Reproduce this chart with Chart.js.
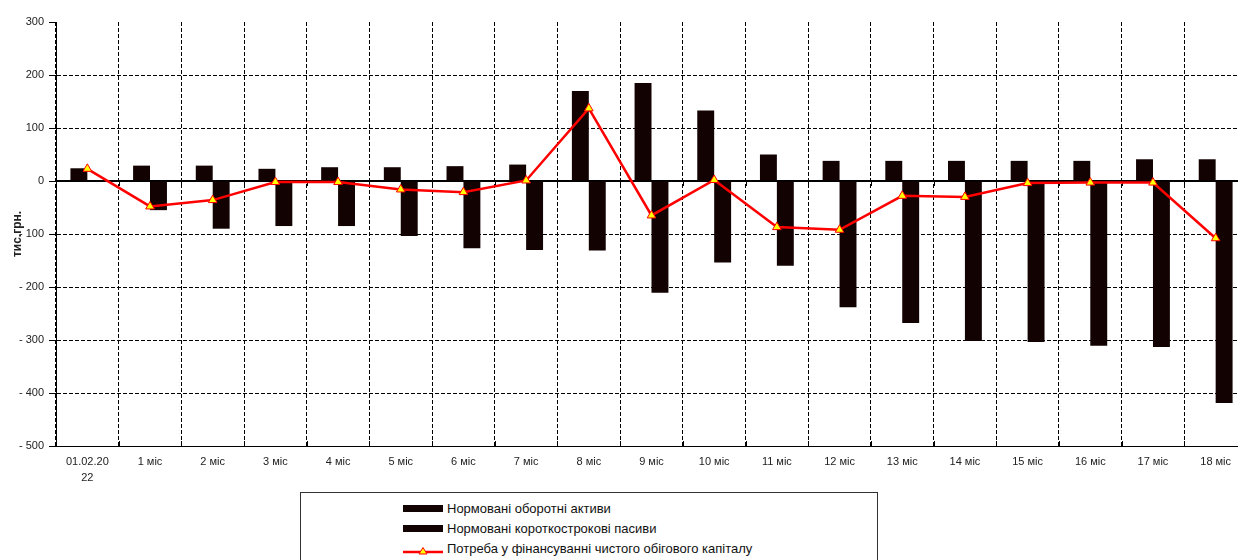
<!DOCTYPE html>
<html lang="uk">
<head>
<meta charset="utf-8">
<title>Потреба у фінансуванні чистого обігового капіталу</title>
<script src="https://cdn.jsdelivr.net/npm/chart.js"></script>
<style>
    html, body { margin: 0; padding: 0; background: #fff; overflow: hidden; }
    #wrap { position: relative; width: 1238px; height: 560px; overflow: hidden; }
    #chart { position: absolute; left: 0; top: 0; }
    #legend {
        position: absolute; left: 300px; top: 492px; width: 578px; height: 80px;
        border: 1px solid #333; box-sizing: border-box;
        font-family: "Liberation Sans", Arial, sans-serif; font-size: 13px; color: #111;
        padding-top: 5px;
    }
    #legend .item { display: flex; align-items: center; height: 20.3px; padding-left: 102px; }
    #legend .swatch { width: 40px; height: 10px; margin-right: 4px; position: relative; }
    #legend .box { position: absolute; left: 0; top: 1.5px; width: 40px; height: 7px; }
</style>
</head>
<body>
<div id="wrap">
    <canvas id="chart" width="1253" height="490"></canvas>
    <div id="legend"></div>
</div>
<script>
// Categories: start date and months after it
const categories = [
    ['01.02.20', '22'], '1 міс', '2 міс', '3 міс', '4 міс', '5 міс', '6 міс', '7 міс', '8 міс',
    '9 міс', '10 міс', '11 міс', '12 міс', '13 міс', '14 міс', '15 міс', '16 міс', '17 міс', '18 міс'
];

// Values, тис. грн.
const currentAssets = [24, 29, 29, 23, 26, 26, 28, 31, 170, 185, 133, 50, 38, 38, 38, 38, 38, 41, 41];
const currentLiabilities = [null, -55, -90, -85, -85, -104, -127, -130, -131, -211, -154, -160, -238, -268, -302, -304, -311, -313, -419];
const workingCapitalNeed = [23, -48, -36, -2, -2, -16, -21, 1, 137, -65, 2, -87, -92, -28, -30, -4, -3, -3, -108];

const yTicks = { min: -500, max: 300, step: 100 };

const seriesNames = [
    'Нормовані оборотні активи',
    'Нормовані короткострокові пасиви',
    'Потреба у фінансуванні чистого обігового капіталу'
];

const BAR_COLOR = '#120202';
const LINE_COLOR = '#ff0000';
const POINT_FILL = '#ffff00';
const TEXT_COLOR = '#222';

// Solid zero line plus the small category tick marks on it and on the bottom axis
const axisLinePlugin = {
    id: 'axisLines',
    beforeDatasetsDraw(chart) {
        const { ctx, chartArea, scales: { x, y } } = chart;
        const zeroY = Math.round(y.getPixelForValue(0));
        ctx.save();
        ctx.strokeStyle = '#000';
        ctx.lineWidth = 2;
        ctx.beginPath();
        ctx.moveTo(chartArea.left, zeroY);
        ctx.lineTo(chartArea.right, zeroY);
        ctx.stroke();

        ctx.lineWidth = 1;
        const half = (x.getPixelForValue(1) - x.getPixelForValue(0)) / 2;
        ctx.beginPath();
        for (let i = 0; i < categories.length; i++) {
            const bx = Math.round(x.getPixelForValue(i) + half) + 0.5;
            ctx.moveTo(bx, zeroY);
            ctx.lineTo(bx, zeroY + 5);
            ctx.moveTo(bx, chartArea.bottom);
            ctx.lineTo(bx, chartArea.bottom - 5);
        }
        ctx.stroke();
        ctx.restore();
    }
};

function buildLegend(chart) {
    const legend = document.getElementById('legend');
    chart.data.datasets.forEach(ds => {
        const item = document.createElement('div');
        item.className = 'item';
        const swatch = document.createElement('div');
        swatch.className = 'swatch';
        if (ds.type === 'line') {
            swatch.innerHTML =
                '<svg width="40" height="10" viewBox="0 0 40 10">' +
                '<line x1="0" y1="6" x2="40" y2="6" stroke="' + LINE_COLOR + '" stroke-width="2.5"/>' +
                '<polygon points="20,1.5 24,8 16,8" fill="' + POINT_FILL + '" stroke="' + LINE_COLOR + '" stroke-width="1"/>' +
                '</svg>';
        } else {
            const box = document.createElement('div');
            box.className = 'box';
            box.style.background = ds.backgroundColor;
            swatch.appendChild(box);
        }
        const label = document.createElement('span');
        label.textContent = ds.label;
        item.appendChild(swatch);
        item.appendChild(label);
        legend.appendChild(item);
    });
}

const ctx = document.getElementById('chart').getContext('2d');

const chart = new Chart(ctx, {
    type: 'bar',
    data: {
        labels: categories,
        datasets: [
            {
                label: seriesNames[0],
                data: currentAssets,
                backgroundColor: BAR_COLOR,
                categoryPercentage: 0.54,
                barPercentage: 1,
                order: 2
            },
            {
                label: seriesNames[1],
                data: currentLiabilities,
                backgroundColor: BAR_COLOR,
                categoryPercentage: 0.54,
                barPercentage: 1,
                order: 2
            },
            {
                type: 'line',
                label: seriesNames[2],
                data: workingCapitalNeed,
                borderColor: LINE_COLOR,
                borderWidth: 2.5,
                tension: 0,
                pointStyle: 'triangle',
                pointRadius: 5,
                pointBackgroundColor: POINT_FILL,
                pointBorderColor: LINE_COLOR,
                pointBorderWidth: 1,
                order: 0
            }
        ]
    },
    options: {
        responsive: false,
        animation: false,
        layout: { padding: { top: 22, left: 0, right: 0, bottom: 0 } },
        plugins: {
            legend: { display: false },
            tooltip: { enabled: false }
        },
        scales: {
            x: {
                offset: true,
                grid: {
                    offset: true,
                    color: '#000',
                    lineWidth: 1,
                    drawTicks: false
                },
                border: { display: true, color: '#000', width: 1, dash: [4, 2] },
                ticks: {
                    color: TEXT_COLOR,
                    padding: 8,
                    maxRotation: 0,
                    autoSkip: false,
                    font: { family: '"Liberation Sans", Arial, sans-serif', size: 11, lineHeight: 1.45 }
                },
                afterFit(scale) { scale.height = 44; }
            },
            y: {
                min: yTicks.min,
                max: yTicks.max,
                grid: {
                    color: c => (c.tick && (c.tick.value === yTicks.max || c.tick.value === 0)) ? 'rgba(0,0,0,0)' : '#000',
                    lineWidth: 1,
                    tickLength: 7,
                    tickColor: '#000'
                },
                border: { display: true, color: '#000', width: 1, dash: [4, 2] },
                ticks: {
                    stepSize: yTicks.step,
                    padding: 5,
                    color: TEXT_COLOR,
                    font: { family: '"Liberation Sans", Arial, sans-serif', size: 11 },
                    callback: v => v < 0 ? '- ' + (-v) : String(v)
                },
                title: {
                    display: true,
                    text: 'тис.грн.',
                    color: TEXT_COLOR,
                    padding: { top: 10, bottom: 0 },
                    font: { family: '"Liberation Sans", Arial, sans-serif', size: 12, weight: 'bold' }
                },
                afterFit(scale) { scale.width = 56; }
            }
        }
    },
    plugins: [axisLinePlugin]
});

buildLegend(chart);
</script>
</body>
</html>
